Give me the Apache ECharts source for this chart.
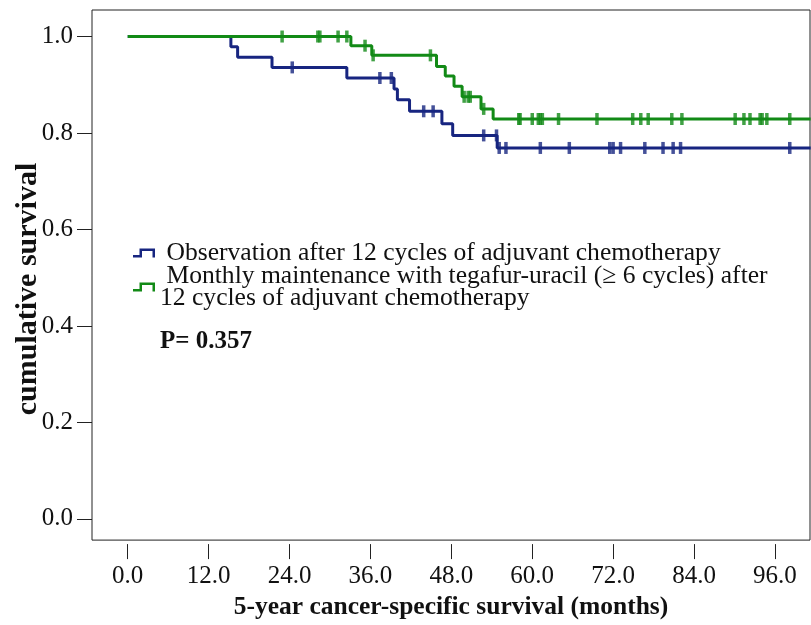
<!DOCTYPE html>
<html>
<head>
<meta charset="utf-8">
<script src="https://cdn.jsdelivr.net/npm/echarts@6/dist/echarts.min.js"></script>
<style>
  html, body { margin: 0; padding: 0; background: #fff; }
  #chart { width: 811px; height: 625px; }
</style>
</head>
<body>
<div id="chart"></div>
<script>
// ---- data ----
const xTickValues = [0, 12, 24, 36, 48, 60, 72, 84, 96];
const yTickValues = [0, 0.2, 0.4, 0.6, 0.8, 1.0];

const seriesNames = [
  ' Observation after 12 cycles of adjuvant chemotherapy',
  ' Monthly maintenance with tegafur-uracil (\u2265 6 cycles) after\n12 cycles of adjuvant chemotherapy'
];

// Observation group: step points (time, survival)
const obsTimes = [0, 15.3, 16.3, 21.4, 32.5, 39.5, 40.0, 41.8, 46.6, 48.2, 54.8, 101.3];
const obsSurv  = [1.0, 0.979, 0.957, 0.936, 0.914, 0.891, 0.869, 0.845, 0.819, 0.795, 0.769, 0.769];
const obsCensored = [24.4, 37.4, 39.1, 43.9, 45.3, 52.8, 54.7, 55.1, 56.1, 61.2, 65.5, 71.5, 72.0, 73.1,
                     76.7, 79.4, 80.9, 82.0, 98.2];

// Maintenance group
const mntTimes = [0, 33.1, 36.2, 45.8, 47.1, 48.4, 49.6, 52.4, 54.2, 101.3];
const mntSurv  = [1.0, 0.981, 0.961, 0.938, 0.918, 0.897, 0.875, 0.850, 0.829, 0.829];
const mntCensored = [22.9, 28.2, 28.5, 31.2, 32.5, 35.2, 36.4, 44.9, 49.9, 50.5, 50.8, 52.8, 58.0, 58.2,
                     60.0, 60.9, 61.2, 61.5, 63.9, 69.6, 74.9, 76.1, 77.2, 80.7, 82.2, 90.1, 91.4, 92.3,
                     93.8, 94.1, 94.8, 98.2];

const pText = 'P= 0.357';

// ---- helpers ----
function survAt(times, surv, t) {
  let s = surv[0];
  for (let i = 0; i < times.length; i++) { if (times[i] <= t) s = surv[i]; }
  return s;
}
const pairs = (a, b) => a.map((v, i) => [v, b[i]]);
const censorPts = (c, times, surv) => c.map(t => [t, survAt(times, surv, t)]);

const BLUE = '#172580';
const GREEN = '#128a16';
const FONT = '"Liberation Serif", "Times New Roman", serif';
const ICON = 'path://M0,9 L0,6.5 L6.5,6.5 L6.5,0 L22,0 L22,9 L19.5,9 L19.5,2.5 L9,2.5 L9,9 Z';

const chart = echarts.init(document.getElementById('chart'), null, { renderer: 'canvas' });
chart.setOption({
  animation: false,
  backgroundColor: '#fff',
  grid: { left: 92, right: 1, top: 10, bottom: 82, show: true, borderColor: '#222', borderWidth: 1, backgroundColor: '#fff' },
  xAxis: {
    type: 'value', min: -5.3, max: 101.2, offset: 4,
    axisLine: { show: false, onZero: false },
    splitLine: { show: false },
    axisTick: { show: true, length: 15, inside: false, customValues: xTickValues, lineStyle: { color: '#222', width: 1 } },
    axisLabel: { customValues: xTickValues, margin: 20, fontFamily: FONT, fontSize: 25, color: '#111',
                 formatter: v => v.toFixed(1) },
    name: '5-year cancer-specific survival (months)',
    nameLocation: 'middle', nameGap: 47,
    nameTextStyle: { fontFamily: FONT, fontSize: 25.5, fontWeight: 'bold', color: '#111' }
  },
  yAxis: {
    type: 'value', min: -0.044, max: 1.055,
    axisLine: { show: false, onZero: false },
    splitLine: { show: false },
    axisTick: { show: true, length: 15, inside: false, customValues: yTickValues, lineStyle: { color: '#222', width: 1 } },
    axisLabel: { customValues: yTickValues, margin: 19, fontFamily: FONT, fontSize: 25, color: '#111',
                 formatter: v => v.toFixed(1) }
  },
  legend: {
    orient: 'vertical', left: 133, top: 240, itemGap: -3, padding: 0,
    itemWidth: 22, itemHeight: 9, icon: ICON,
    itemStyle: { borderWidth: 0 },
    textStyle: { fontFamily: FONT, fontSize: 25.6, color: '#111', lineHeight: 22 },
    data: seriesNames,
    selectedMode: false
  },
  graphic: [
    { type: 'text', x: 28, y: 289, rotation: Math.PI / 2,
      style: { text: 'cumulative survival', font: 'bold 30px ' + FONT, fill: '#111',
               textAlign: 'center', textVerticalAlign: 'middle' } },
    { type: 'text', x: 160, y: 342,
      style: { text: pText, font: 'bold 25px ' + FONT, fill: '#111',
               textAlign: 'left', textVerticalAlign: 'middle' } }
  ],
  series: [
    { name: seriesNames[0], type: 'line', step: 'end', data: pairs(obsTimes, obsSurv),
      showSymbol: false, symbol: 'none', color: BLUE, lineStyle: { color: BLUE, width: 3 }, z: 2 },
    { type: 'scatter', data: censorPts(obsCensored, obsTimes, obsSurv), symbol: 'rect', symbolSize: [3.5, 12],
      itemStyle: { color: BLUE }, z: 3 },
    { name: seriesNames[1], type: 'line', step: 'end', data: pairs(mntTimes, mntSurv),
      showSymbol: false, symbol: 'none', color: GREEN, lineStyle: { color: GREEN, width: 3 }, z: 4 },
    { type: 'scatter', data: censorPts(mntCensored, mntTimes, mntSurv), symbol: 'rect', symbolSize: [3.5, 12],
      itemStyle: { color: GREEN }, z: 5 }
  ]
});
</script>
</body>
</html>
